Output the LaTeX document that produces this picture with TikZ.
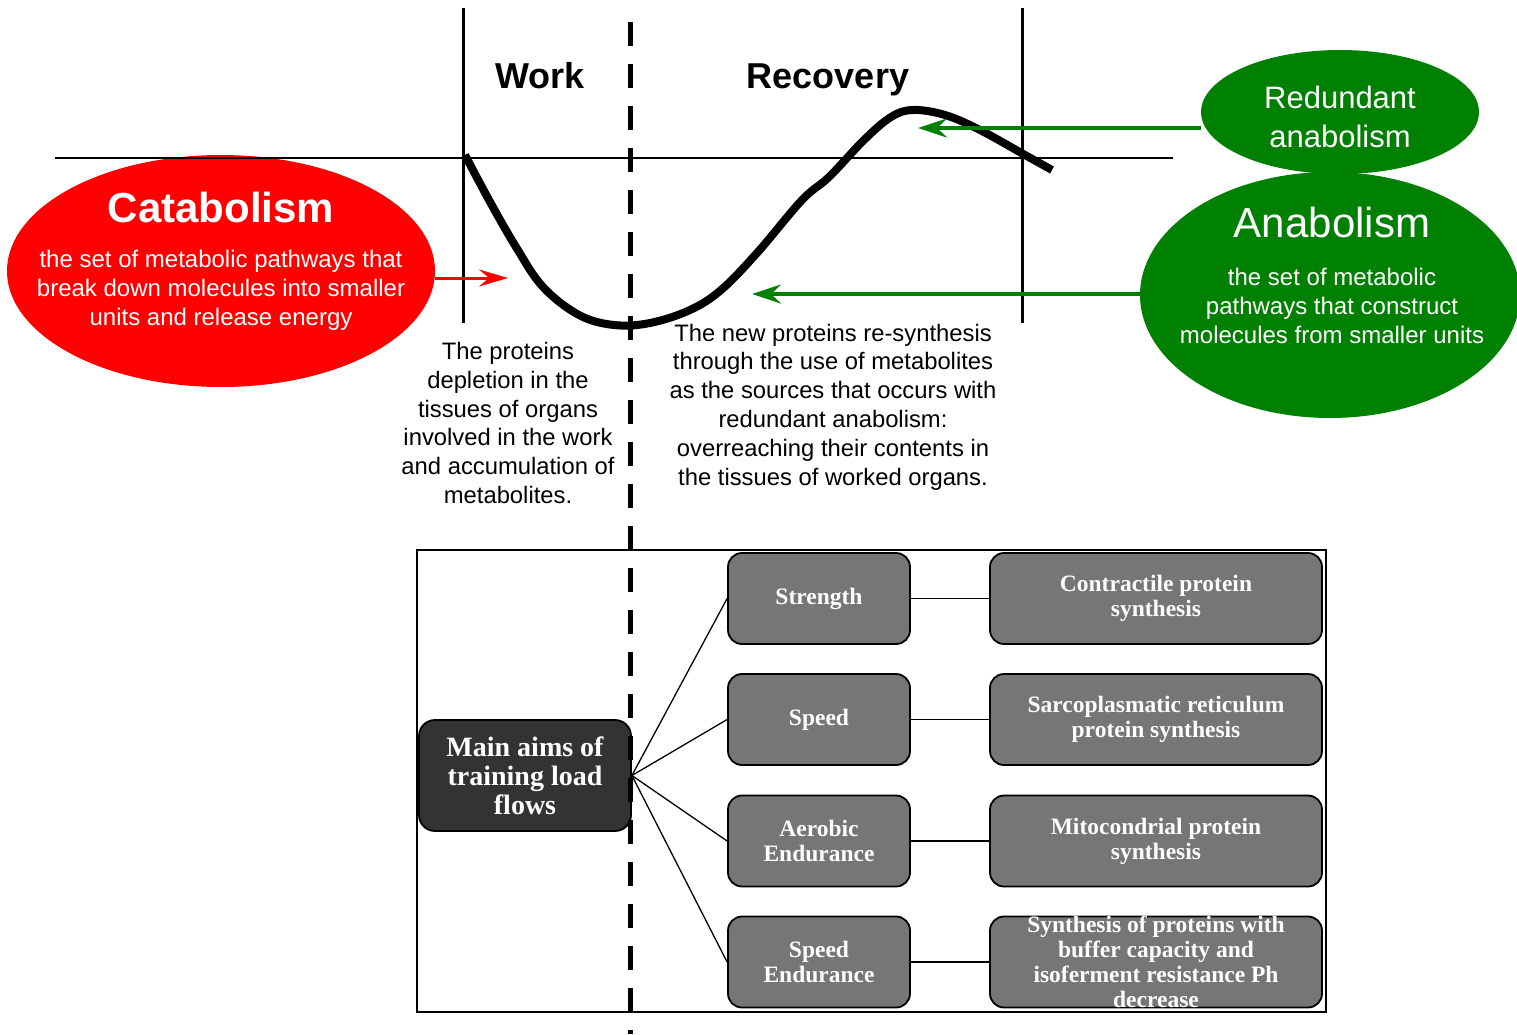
\documentclass[tikz,border=0pt]{standalone}
\usepackage{fontspec}
\setmainfont{Liberation Serif}
\newfontfamily\arial{Liberation Sans}
\usetikzlibrary{shapes.geometric,arrows.meta}
\definecolor{dgreen}{RGB}{0,128,0}
\definecolor{boxgray}{RGB}{118,118,118}
\definecolor{darkbox}{RGB}{51,51,51}
\begin{document}
\begin{tikzpicture}[x=1pt,y=-1pt,
  aimbox/.style={draw=black, line width=1.8pt, rounded corners=14pt, fill=boxgray,
    text=white, font=\bfseries\fontsize{23.5}{25}\selectfont, align=center, inner sep=0pt,
    minimum width=182pt, minimum height=91pt},
  resbox/.style={aimbox, minimum width=332pt},
  lbl/.style={text=white, font=\bfseries\fontsize{23.5}{25}\selectfont, align=center, inner sep=0pt},
  mainbox/.style={draw=black, line width=1.8pt, rounded corners=16pt, fill=darkbox,
    text=white, font=\bfseries\fontsize{28}{29}\selectfont, align=center, inner sep=0pt,
    minimum width=212pt, minimum height=111pt},
  blob/.style={ellipse, inner sep=0pt},
  wtxt/.style={text=white, align=center, inner sep=0pt},
  btxt/.style={text=black, align=center, inner sep=0pt, font=\arial\fontsize{23.8}{28.8}\selectfont},
  conn/.style={line width=1.3pt},
  garrow/.style={draw=dgreen, line width=4pt, -{Stealth[length=29pt,width=19pt,inset=10pt]}},
  rarrow/.style={draw=red, line width=3pt, -{Stealth[length=29pt,width=17pt,inset=10pt]}}
]
\useasboundingbox (0,0) rectangle (1517,1034);

% ellipses
\node[blob, fill=red, minimum width=428pt, minimum height=232pt] (cat) at (221,271) {};
\node[blob, fill=dgreen, minimum width=278pt, minimum height=124pt] (red) at (1340,112) {};
\node[blob, fill=dgreen, minimum width=380pt, minimum height=246pt] (ana) at (1330,295) {};

\node[wtxt, font=\arial\bfseries\fontsize{42}{48}\selectfont] (catt) at (221,207) {Catabolism};
\node[wtxt, font=\arial\fontsize{24}{28.8}\selectfont] (catd) at (221,290) {the set of metabolic pathways that\\break down molecules into smaller\\units and release energy};
\node[wtxt, font=\arial\fontsize{31}{39}\selectfont] (redt) at (1340,117) {Redundant\\anabolism};
\node[wtxt, font=\arial\fontsize{42}{48}\selectfont] (anat) at (1332,222) {Anabolism};
\node[wtxt, font=\arial\fontsize{24}{28.8}\selectfont] (anad) at (1332,306) {the set of metabolic\\pathways that construct\\molecules from smaller units};

% axes
\coordinate (hl) at (55,158);
\coordinate (hr) at (1173,158);
\draw[line width=1.7pt] (hl) -- (hr);
\coordinate (v1t) at (463,8);
\coordinate (v1b) at (463,323);
\coordinate (v2t) at (1022,8);
\coordinate (v2b) at (1022,323);
\draw[line width=3pt] (v1t) -- (v1b);
\draw[line width=3pt] (v2t) -- (v2b);

\node[inner sep=0pt, anchor=base, font=\arial\bfseries\fontsize{36}{40}\selectfont] (work) at (540,88) {Work};
\node[inner sep=0pt, anchor=base, font=\arial\bfseries\fontsize{36}{40}\selectfont] (rec) at (828,88) {Recovery};

% curve
\draw[line width=8pt, line join=round] plot[smooth, tension=0.6] coordinates {
 (465,155) (489,200) (516,247) (543,287) (579,315) (614,325) (650,323) (690,310)
 (721,290) (757,253) (802,200) (829,177) (864,140) (891,117) (913,110) (945,115)
 (980,130) (1025,155) (1052,170)};

% arrows
\coordinate (rtip) at (508,278);
\coordinate (g1tip) at (918,128);
\coordinate (g2tip) at (752,294);
\draw[rarrow] (cat.east |- rtip) -- (rtip);
\draw[garrow] (red.west |- g1tip) -- (g1tip);
\draw[garrow] (ana.west |- g2tip) -- (g2tip);

% descriptive texts
\node[btxt] (ltxt) at (508,423) {The proteins\\depletion in the\\tissues of organs\\involved in the work\\and accumulation of\\metabolites.};
\node[btxt] (rtxt) at (833,407) {The new proteins re-synthesis\\through the use of metabolites\\as the sources that occurs with\\redundant anabolism:\\overreaching their contents in\\the tissues of worked organs.};

% lower frame
\coordinate (fa) at (417,550);
\coordinate (fb) at (1326,1012);
\draw[line width=1.5pt] (fa) rectangle (fb);

\node[mainbox] (main) at (525,775.5) {Main aims of\\training load\\flows};

\node[aimbox] (a1) at (819,598.5) {Strength};
\node[aimbox] (a2) at (819,719.5) {Speed};
\node[aimbox] (a3) at (819,841) {Aerobic\\Endurance};
\node[aimbox] (a4) at (819,962) {Speed\\Endurance};

\node[resbox] (r1) at (1156,598.5) {Contractile protein\\synthesis};
\node[resbox] (r2) at (1156,719.5) {Sarcoplasmatic reticulum\\protein synthesis};
\node[resbox] (r3) at (1156,841) {Mitocondrial protein\\synthesis};
\node[resbox, label={[lbl]center:{Synthesis of proteins with\\buffer capacity and\\isoferment resistance Ph\\decrease}}] (r4) at (1156,962) {};

\foreach \i in {1,2,3,4} {
  \draw[conn] (main.east) -- (a\i.west);
  \draw[conn] (a\i.east) -- (r\i.west);
}

% dashed divider
\coordinate (dt) at (630,22);
\coordinate (db) at (630,1034);
\draw[line width=5pt, dash pattern=on 24pt off 18pt] (dt) -- (db);
\end{tikzpicture}
\end{document}
